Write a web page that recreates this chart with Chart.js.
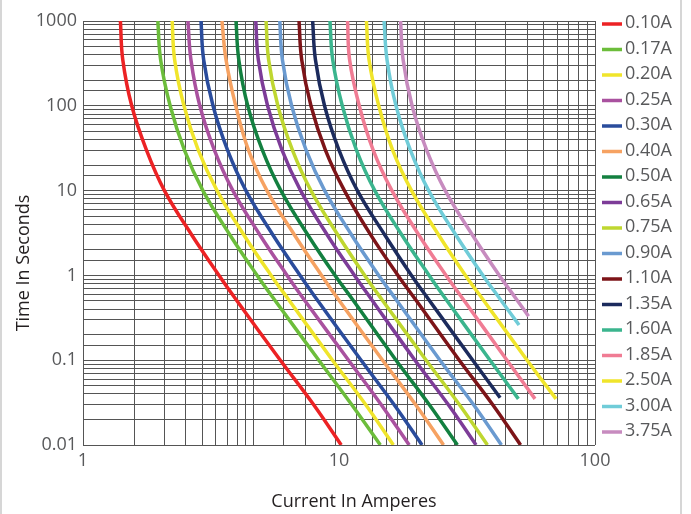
<!DOCTYPE html>
<html>
<head>
<meta charset="utf-8">
<title>Time-Current Curves</title>
<script src="https://cdn.jsdelivr.net/npm/chart.js@4.4.1/dist/chart.umd.min.js"></script>
<style>
  body{margin:0;background:#fff;}
  .wrap{position:relative;width:691px;height:514px;}
  .frame{position:absolute;left:0;top:0;width:678px;height:514px;border-left:2px solid #d6d6d6;border-right:2px solid #d6d6d6;pointer-events:none;}
</style>
</head>
<body>
<div class="wrap">
  <canvas id="fuseChart"></canvas>
  <div class="frame"></div>
</div>
<script>

// ============================
// DATA
// ============================

const ratings = ["0.10A","0.17A","0.20A","0.25A","0.30A","0.40A","0.50A","0.65A","0.75A",
                 "0.90A","1.10A","1.35A","1.60A","1.85A","2.50A","3.00A","3.75A"];

const colors = ["#ec2224","#6cbd3b","#f0e52b","#a9519f","#2a4c9c","#f6a262","#138040","#7d3c98","#bfd730",
                "#6a9ad0","#7d1418","#1c2b5d","#3bb58e","#f07c94","#f0e52b","#70ccd8","#c78bbf"];

// time (s) for each column of the rows below; the LAST value of a row goes with endTimes
const timeSteps = [1000, 350, 100, 30, 10, 3, 1, 0.52, 0.1, 0.03];
const endTimes = [0.01,0.01,0.01,0.01,0.01,0.01,0.01,0.01,0.01,0.01,0.01,
                  0.036,0.035,0.035,0.035,0.26,0.33];

// current (A)
const currents = [
  [1.40, 1.43, 1.55, 1.77, 2.08, 2.66, 3.40, 3.96, 5.90, 7.95, 10.2],
  [1.96, 2.01, 2.19, 2.49, 2.94, 3.75, 4.79, 5.59, 8.34, 11.2, 14.5],
  [2.23, 2.28, 2.48, 2.82, 3.34, 4.25, 5.43, 6.35, 9.43, 12.7, 16.3],
  [2.57, 2.64, 2.86, 3.26, 3.85, 4.91, 6.27, 7.30, 10.9, 14.6, 18.8],
  [2.89, 2.96, 3.22, 3.67, 4.33, 5.52, 7.05, 8.20, 12.2, 16.4, 21.1],
  [3.49, 3.62, 3.95, 4.43, 5.23, 6.70, 8.55, 9.95, 14.8, 19.9, 25.6],
  [3.96, 4.06, 4.40, 5.02, 5.93, 7.56, 9.65, 11.3, 16.7, 22.5, 29.0],
  [4.73, 4.84, 5.26, 5.99, 7.08, 9.00, 11.5, 13.4, 19.8, 26.7, 34.3],
  [5.19, 5.31, 5.77, 6.58, 7.77, 9.90, 12.6, 14.7, 21.9, 29.5, 38.0],
  [5.87, 6.01, 6.53, 7.44, 8.79, 11.2, 14.3, 16.7, 24.8, 33.5, 43.1],
  [6.98, 7.15, 7.77, 8.85, 10.5, 13.3, 17.0, 19.9, 29.5, 39.8, 51.2],
  [7.89, 8.09, 8.78, 10.0, 11.8, 15.1, 19.2, 22.4, 33.3, 42.6],
  [9.22, 9.45, 10.3, 11.7, 13.8, 17.6, 22.5, 26.2, 38.9, 50.2],
  [10.8, 11.0, 12.0, 13.6, 16.1, 20.5, 26.2, 30.6, 45.3, 58.3],
  [12.8, 13.1, 14.3, 16.2, 19.2, 24.5, 31.2, 36.5, 54.3, 70.4],
  [15.0, 15.4, 16.7, 19.0, 22.4, 28.6, 36.5, 42.7, 50.5],
  [17.4, 17.8, 19.3, 22.0, 26.0, 33.2, 42.3, 49.4, 55.0]
];


// ============================
// HELPERS
// ============================

function decadeLabel(value){
  const p = Math.log10(value);
  if(Math.abs(p - Math.round(p)) > 1e-6) return "";
  return String(Number(value.toPrecision(3)));
}

const tickFont = { family:"'Open Sans'", size:18 };

// legend + axis titles, drawn next to the plot area
const decorPlugin = {
  id:"decor",
  afterDraw(chart){
    const ctx = chart.ctx;
    const area = chart.chartArea;
    ctx.save();

    // LEGEND
    ctx.font = "18px 'Open Sans'";
    ctx.textBaseline = "middle";
    ctx.textAlign = "left";
    chart.data.datasets.forEach((ds,i)=>{
      const y = area.top + 3 + i*25.5;
      ctx.strokeStyle = ds.borderColor;
      ctx.lineWidth = 3.5;
      ctx.beginPath();
      ctx.moveTo(area.right + 7, y);
      ctx.lineTo(area.right + 27, y);
      ctx.stroke();
      ctx.fillStyle = "#58595b";
      ctx.fillText(ds.label, area.right + 30, y - 1);
    });

    // AXIS TITLES
    ctx.fillStyle = "#231f20";
    ctx.textAlign = "center";
    ctx.fillText("Current In Amperes", 354, 502);
    ctx.translate(24, 263);
    ctx.rotate(-Math.PI/2);
    ctx.fillText("Time In Seconds", 0, 0);

    ctx.restore();
  }
};


// ============================
// CHART
// ============================

const datasets = ratings.map((label,k)=>{
  const row = currents[k];
  return {
    label: label,
    data: row.map((amp,j)=>({
      x: amp,
      y: j === row.length - 1 ? endTimes[k] : timeSteps[j]
    })),
    borderColor: colors[k],
    borderWidth: 3.5,
    pointRadius: 0,
    fill: false,
    tension: 0.4,
    borderCapStyle: "butt",
    borderJoinStyle: "round",
    xAxisID: "x",
    yAxisID: "y"
  };
});

new Chart(document.getElementById("fuseChart"),{
  type:"line",
  data:{ datasets: datasets },
  plugins:[decorPlugin],
  options:{
    responsive:true,
    maintainAspectRatio:false,
    animation:false,
    layout:{ padding:{ top:21, right:96, bottom:0, left:0 } },
    plugins:{
      legend:{ display:false },
      tooltip:{ enabled:false }
    },
    scales:{
      x:{
        type:"logarithmic",
        position:"bottom",
        min:1,
        max:100,
        grid:{ display:false, drawTicks:false },
        border:{ display:false },
        ticks:{
          autoSkip:false,
          maxRotation:0,
          padding:5,
          color:"#58595b",
          font:tickFont,
          callback:(v)=>decadeLabel(v)
        },
        afterFit:(s)=>{ s.height = 69; }
      },
      // grid of the original runs over three decades
      xGrid:{
        type:"logarithmic",
        axis:"x",
        position:"top",
        min:1,
        max:1000,
        ticks:{ display:false },
        grid:{ color:"#555", lineWidth:1, drawTicks:false },
        border:{ display:false },
        afterFit:(s)=>{ s.height = 0; }
      },
      y:{
        type:"logarithmic",
        min:0.01,
        max:1000,
        grid:{ color:"#555", lineWidth:1, drawTicks:false },
        border:{ display:false },
        ticks:{
          autoSkip:false,
          padding:6,
          color:"#58595b",
          font:tickFont,
          callback:(v)=>decadeLabel(v)
        },
        afterFit:(s)=>{ s.width = 83; }
      }
    }
  }
});
</script>
</body>
</html>
